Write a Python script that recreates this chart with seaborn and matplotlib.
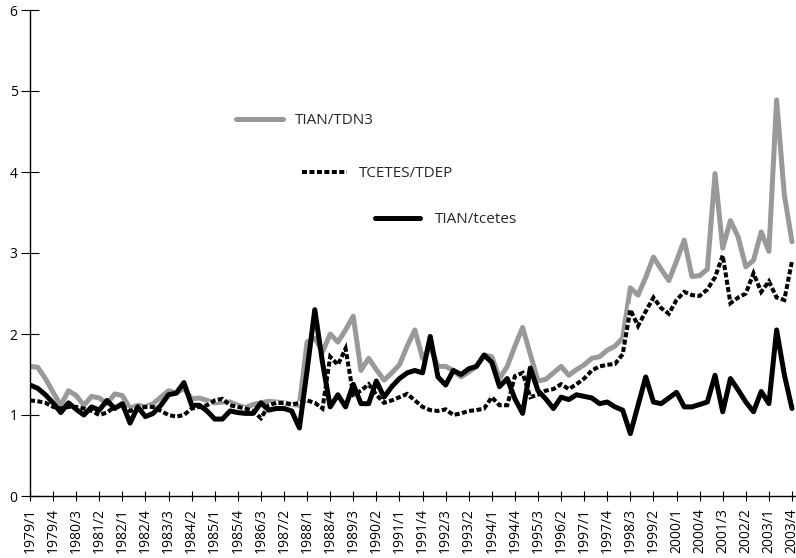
import numpy as np
import pandas as pd
import matplotlib
matplotlib.use("Agg")
import matplotlib.pyplot as plt
from matplotlib.lines import Line2D
import seaborn as sns

# ---------------- data ----------------
years = list(range(1979, 2004))
quarters = [f"{y}/{q}" for y in years for q in (1, 2, 3, 4)]

tian_tdn3 = [
    1.60, 1.59, 1.45, 1.28, 1.12, 1.30, 1.24, 1.12, 1.23, 1.21,
    1.14, 1.26, 1.24, 1.08, 1.12, 1.10, 1.14, 1.22, 1.30, 1.27,
    1.33, 1.20, 1.21, 1.18, 1.15, 1.16, 1.16, 1.12, 1.09, 1.13,
    1.15, 1.17, 1.16, 1.15, 1.13, 1.12, 1.90, 1.95, 1.78, 2.00,
    1.90, 2.05, 2.22, 1.55, 1.70, 1.56, 1.43, 1.52, 1.62, 1.85,
    2.05, 1.70, 1.84, 1.60, 1.60, 1.55, 1.47, 1.53, 1.60, 1.74,
    1.72, 1.45, 1.60, 1.85, 2.08, 1.75, 1.42, 1.44, 1.52, 1.60,
    1.49, 1.56, 1.62, 1.70, 1.72, 1.80, 1.85, 1.95, 2.57, 2.48,
    2.70, 2.95, 2.80, 2.66, 2.90, 3.16, 2.71, 2.72, 2.80, 3.98,
    3.06, 3.40, 3.20, 2.83, 2.91, 3.26, 3.02, 4.89, 3.72, 3.14,
]

tcetes_tdep = [
    1.18, 1.17, 1.15, 1.10, 1.08, 1.10, 1.10, 1.08, 1.05, 1.00,
    1.03, 1.10, 1.10, 1.05, 1.08, 1.10, 1.10, 1.05, 1.00, 0.98,
    1.00, 1.08, 1.10, 1.12, 1.18, 1.20, 1.12, 1.10, 1.08, 1.05,
    0.96, 1.12, 1.15, 1.15, 1.13, 1.15, 1.18, 1.15, 1.08, 1.72,
    1.62, 1.82, 1.25, 1.30, 1.38, 1.25, 1.15, 1.18, 1.22, 1.26,
    1.18, 1.10, 1.06, 1.05, 1.07, 1.00, 1.02, 1.05, 1.06, 1.08,
    1.22, 1.12, 1.12, 1.48, 1.52, 1.22, 1.25, 1.30, 1.32, 1.38,
    1.32, 1.38, 1.45, 1.55, 1.60, 1.62, 1.63, 1.75, 2.30, 2.10,
    2.28, 2.45, 2.32, 2.25, 2.42, 2.52, 2.48, 2.47, 2.55, 2.70,
    2.97, 2.38, 2.45, 2.50, 2.75, 2.52, 2.65, 2.45, 2.42, 2.90,
]

tian_tcetes = [
    1.37, 1.33, 1.25, 1.15, 1.03, 1.15, 1.07, 1.00, 1.10, 1.06,
    1.18, 1.08, 1.14, 0.90, 1.10, 0.98, 1.02, 1.12, 1.25, 1.27,
    1.40, 1.12, 1.12, 1.05, 0.95, 0.95, 1.05, 1.03, 1.02, 1.02,
    1.15, 1.06, 1.08, 1.08, 1.05, 0.84, 1.55, 2.30, 1.65, 1.10,
    1.25, 1.10, 1.38, 1.14, 1.14, 1.42, 1.22, 1.35, 1.45, 1.52,
    1.55, 1.52, 1.97, 1.47, 1.37, 1.55, 1.50, 1.57, 1.60, 1.74,
    1.65, 1.35, 1.45, 1.20, 1.02, 1.58, 1.30, 1.20, 1.08, 1.22,
    1.19, 1.25, 1.23, 1.21, 1.14, 1.16, 1.10, 1.06, 0.77, 1.12,
    1.47, 1.16, 1.14, 1.21, 1.28, 1.10, 1.10, 1.13, 1.16, 1.49,
    1.04, 1.45, 1.31, 1.16, 1.04, 1.29, 1.14, 2.05, 1.50, 1.08,
]

series_names = ["TIAN/TDN3", "TCETES/TDEP", "TIAN/tcetes"]

df = pd.DataFrame({
    "quarter": quarters,
    "pos": np.arange(len(quarters)),
    series_names[0]: tian_tdn3,
    series_names[1]: tcetes_tdep,
    series_names[2]: tian_tcetes,
})

# ---------------- style ----------------
sns.set_theme(style="white")
plt.rcParams["font.family"] = ["Open Sans", "DejaVu Sans"]

GRAY = "#9a9898"
W, H = 796, 558
fig = plt.figure(figsize=(W / 100, H / 100), dpi=100)
ax = fig.add_axes([30 / W, 62 / H, (W - 30) / W, 486 / H])

sns.lineplot(data=df, x="pos", y=series_names[0], ax=ax, color=GRAY,
             linewidth=3.6, errorbar=None,
             solid_joinstyle="round", solid_capstyle="round")
sns.lineplot(data=df, x="pos", y=series_names[1], ax=ax, color="black",
             linewidth=2.9, errorbar=None)
dash_line = ax.lines[-1]
dash_line.set_dashes((1.25, 0.6))
dash_line.set_gapcolor("white")
dash_line.set_dash_joinstyle("miter")
sns.lineplot(data=df, x="pos", y=series_names[2], ax=ax, color="black",
             linewidth=3.6, errorbar=None,
             solid_joinstyle="round", solid_capstyle="round")

ax.set_xlim(0, 99.52)
ax.set_ylim(0, 6)
ax.set_xlabel("")
ax.set_ylabel("")

tick_pos = df["pos"].iloc[::3].tolist()
tick_lab = df["quarter"].iloc[::3].tolist()
ax.set_xticks(tick_pos)
ax.set_xticklabels(tick_lab, rotation=90)
ax.set_yticks(range(0, 7))
ax.set_yticklabels([str(v) for v in range(0, 7)])

ax.tick_params(axis="y", direction="inout", length=13.5, width=0.8,
               pad=2.2, labelsize=10, colors="black", left=True)
ax.tick_params(axis="x", direction="inout", length=7, width=0.8,
               pad=5, labelsize=10, colors="black", bottom=True)

sns.despine(ax=ax)
for s in ("left", "bottom"):
    ax.spines[s].set_color("black")
    ax.spines[s].set_linewidth(1.0)
ax.grid(False)

# ---------------- legends (staggered, frameless) ----------------
handles = [
    Line2D([], [], color=GRAY, linewidth=3.6, solid_capstyle="round"),
    Line2D([], [], color="black", linewidth=2.9, dashes=(1.25, 0.6)),
    Line2D([], [], color="black", linewidth=3.6, solid_capstyle="round"),
]
leg_specs = [
    (235.5, 121, 3.08, 0.82),
    (301.7, 174, 2.95, 0.76),
    (374.5, 220, 3.0, 0.95),
]
for i, (h, name, (xp, yp, hl, tp)) in enumerate(zip(handles, series_names, leg_specs)):
    leg = ax.legend([h], [name], loc="center left",
                    bbox_to_anchor=(xp / W, 1 - yp / H),
                    bbox_transform=fig.transFigure, frameon=False,
                    borderpad=0, borderaxespad=0, handlelength=hl,
                    handletextpad=tp, prop={"size": 11})
    if i < len(handles) - 1:
        ax.add_artist(leg)

fig.savefig("out.png", dpi=100)
